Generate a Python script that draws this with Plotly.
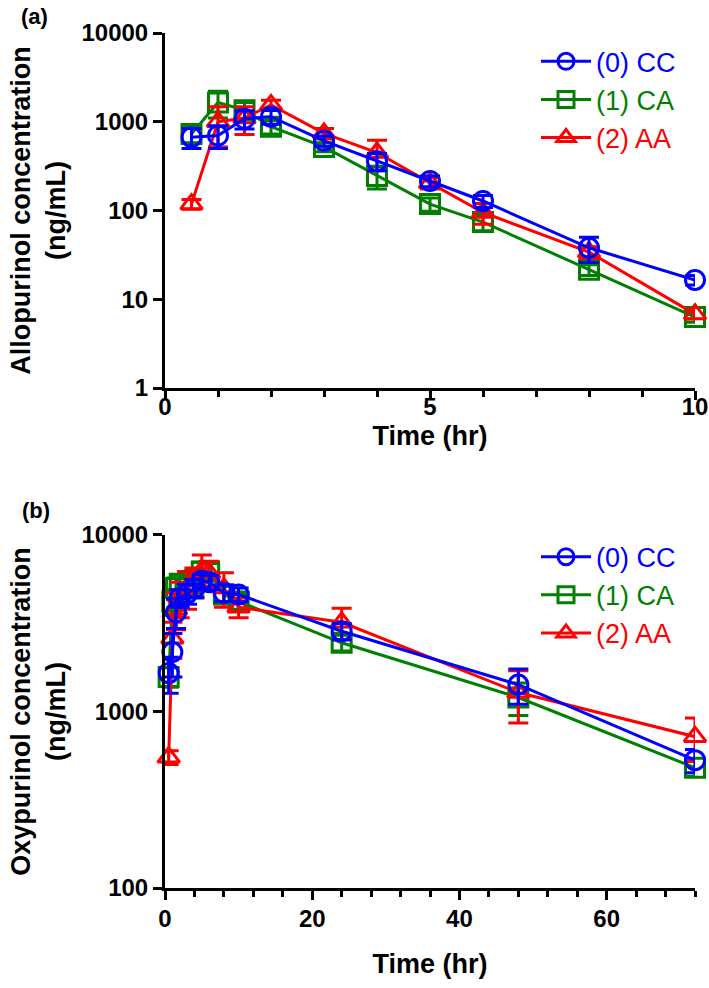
import plotly.graph_objects as go

# ---------------- data ----------------
series_names = ["(0) CC", "(1) CA", "(2) AA"]
series_colors = ["#0000FF", "#008000", "#FF0000"]

time_a = [0.5, 1, 1.5, 2, 3, 4, 5, 6, 8, 10]
cc_a = [670, 700, 1080, 1140, 610, 360, 215, 128, 38, 16.5]
cc_a_sd = [170, 200, 250, 200, 80, 80, 30, 20, 12, 2]
ca_a = [730, 1650, 1350, 880, 520, 245, 118, 74, 21.5, 6.3]
ca_a_sd = [150, 550, 300, 150, 60, 70, 20, 15, 3, 0.8]
aa_a = [118, 1000, 1100, 1550, 740, 450, 205, 95, 34, 6.8]
aa_a_sd = [15, 480, 380, 200, 100, 170, 30, 25, 5, 0.8]

time_b = [0.5, 1, 1.5, 2, 3, 4, 5, 6, 8, 10, 24, 48, 72]
cc_b = [1650, 2170, 3650, 4400, 4650, 5000, 5500, 5400, 4700, 4600, 2850, 1420, 530]
cc_b_sd = [380, 600, 700, 500, 600, 600, 500, 500, 500, 400, 300, 320, 80]
ca_b = [1570, 4200, 5000, 5300, 5200, 5500, 6200, 6200, 4600, 4200, 2450, 1200, 480]
ca_b_sd = [200, 700, 700, 600, 700, 800, 800, 700, 500, 400, 250, 250, 50]
aa_b = [550, 2600, 3800, 4400, 5000, 5500, 6300, 6100, 5000, 3900, 3200, 1280, 720]
aa_b_sd = [50, 600, 900, 1000, 1200, 1000, 1400, 1000, 1100, 500, 650, 420, 200]

xtick_vals_a = [0, 5, 10]
xtick_vals_b = [0, 20, 40, 60]
ytick_vals_a = [1, 10, 100, 1000, 10000]
ytick_text_a = ["1", "10", "100", "1000", "10000"]
ytick_vals_b = [100, 1000, 10000]
ytick_text_b = ["100", "1000", "10000"]

# ---------------- figure ----------------
FONT = "Liberation Sans, Arial, sans-serif"
symbols = ["circle-open", "square-open", "triangle-up-open"]
ranks = [1, 2, 3]
draw_order = [1, 2, 0]  # CA, AA, CC (CC on top)

panel_a = [(cc_a, cc_a_sd), (ca_a, ca_a_sd), (aa_a, aa_a_sd)]
panel_b = [(cc_b, cc_b_sd), (ca_b, ca_b_sd), (aa_b, aa_b_sd)]

fig = go.Figure()

def add_traces(times, data, xa, ya, legend):
    for i in draw_order:
        vals, sd = data[i]
        col = series_colors[i]
        fig.add_trace(go.Scatter(
            x=times, y=vals, xaxis=xa, yaxis=ya, legend=legend,
            mode="lines+markers",
            name='<span style="color:%s">%s</span>' % (col, series_names[i]),
            legendrank=ranks[i],
            line=dict(color=col, width=3),
            marker=dict(symbol=symbols[i], size=19, color=col,
                        line=dict(color=col, width=3)),
            error_y=dict(type="data", array=sd, symmetric=True,
                         color=col, thickness=3, width=10),
            cliponaxis=False,
        ))

add_traces(time_a, panel_a, "x", "y", "legend")
add_traces(time_b, panel_b, "x2", "y2", "legend2")

axis_common = dict(showline=True, linecolor="black", linewidth=3,
                   ticks="outside", ticklen=9, tickwidth=3, tickcolor="black",
                   showgrid=False, zeroline=False, automargin=False,
                   ticklabeloverflow="allow",
                   tickfont=dict(family=FONT, size=24, color="black", weight="bold"),
                   title_font=dict(family=FONT, size=27, color="black", weight="bold"))

fig.update_layout(
    width=709, height=988,
    paper_bgcolor="white", plot_bgcolor="white",
    margin=dict(l=165, r=14, t=33, b=100, autoexpand=False),
    font=dict(family=FONT, color="black"),
    xaxis=dict(domain=[0, 1], anchor="y", range=[0, 10], tickvals=xtick_vals_a,
               ticklabelstandoff=-14,
               minor=dict(dtick=1, tick0=0, ticks="outside", ticklen=6, tickwidth=3, tickcolor="black"),
               title=dict(text="Time (hr)", standoff=8), **axis_common),
    yaxis=dict(domain=[0.5848, 1], anchor="x", type="log", range=[0, 4],
               tickvals=ytick_vals_a, ticktext=ytick_text_a,
               title=dict(text="Allopurinol concentration<br>(ng/mL)", standoff=8), **axis_common),
    xaxis2=dict(domain=[0, 1], anchor="y2", range=[0, 72], tickvals=xtick_vals_b,
                ticklabelstandoff=-2,
                minor=dict(dtick=4, tick0=0, ticks="outside", ticklen=6, tickwidth=3, tickcolor="black"),
                title=dict(text="Time (hr)", standoff=24), **axis_common),
    yaxis2=dict(domain=[0, 0.4129], anchor="x2", type="log", range=[2, 4],
                tickvals=ytick_vals_b, ticktext=ytick_text_b,
                title=dict(text="Oxypurinol concentration<br>(ng/mL)", standoff=8), **axis_common),
    legend=dict(x=0.70, y=0.995, xanchor="left", yanchor="top",
                bgcolor="rgba(0,0,0,0)", itemwidth=50,
                font=dict(family=FONT, size=27), tracegroupgap=0),
    legend2=dict(x=0.70, y=0.4156, xanchor="left", yanchor="top",
                 bgcolor="rgba(0,0,0,0)", itemwidth=50,
                 font=dict(family=FONT, size=27), tracegroupgap=0),
    showlegend=True,
    annotations=[
        dict(text="<b>(a)</b>", x=-0.246, y=1.019, xref="paper", yref="paper",
             xanchor="center", yanchor="middle",
             showarrow=False, font=dict(family=FONT, size=22, color="black")),
        dict(text="<b>(b)</b>", x=-0.244, y=0.441, xref="paper", yref="paper",
             xanchor="center", yanchor="middle",
             showarrow=False, font=dict(family=FONT, size=22, color="black")),
    ],
)

fig.write_html("out.html", config={"displayModeBar": False},
               post_script="document.body.style.margin='0';")
